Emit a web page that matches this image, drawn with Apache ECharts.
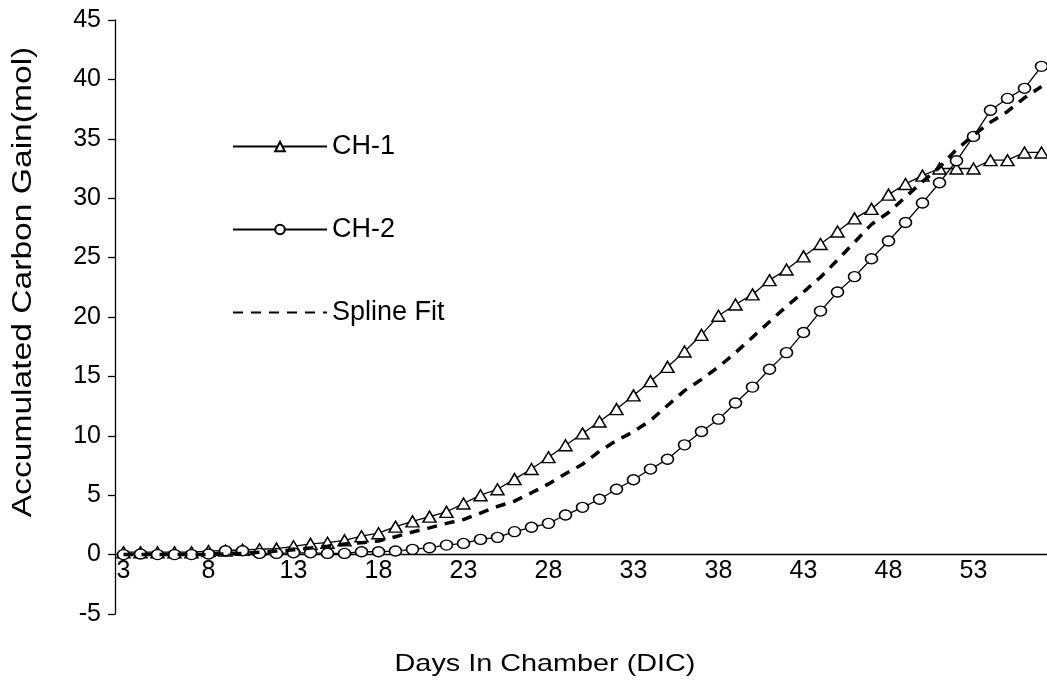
<!DOCTYPE html>
<html>
<head>
<meta charset="utf-8">
<script src="https://cdn.jsdelivr.net/npm/echarts@6/dist/echarts.min.js"></script>
<style>
  html, body { margin: 0; padding: 0; background: #fff; }
  #main { width: 1047px; height: 681px; }
</style>
</head>
<body>
<div id="main"></div>
<script>
// days in chamber (category axis)
var days = ['3','4','5','6','7','8','9','10','11','12','13','14','15','16','17','18','19','20',
    '21','22','23','24','25','26','27','28','29','30','31','32','33','34','35','36','37','38',
    '39','40','41','42','43','44','45','46','47','48','49','50','51','52','53','54','55','56','57'];

// CH-1 accumulated carbon gain (mol)
var ch1 = [0.2, 0.2, 0.2, 0.2, 0.2, 0.3, 0.35, 0.4, 0.45, 0.5, 0.7, 0.9, 1.0, 1.2, 1.55, 1.8,
    2.35, 2.8, 3.2, 3.6, 4.3, 5.0, 5.5, 6.35, 7.2, 8.2, 9.2, 10.2, 11.2, 12.25, 13.4, 14.6,
    15.8, 17.1, 18.5, 20.1, 21.05, 21.9, 23.1, 24.0, 25.1, 26.15, 27.2, 28.3, 29.1, 30.3,
    31.2, 31.9, 32.5, 32.5, 32.5, 33.2, 33.2, 33.85, 33.85];

// CH-2 accumulated carbon gain (mol)
var ch2 = [0.0, 0.05, 0.0, 0.0, 0.0, 0.05, 0.32, 0.32, 0.1, 0.1, 0.15, 0.15, 0.1, 0.1, 0.24,
    0.24, 0.3, 0.44, 0.58, 0.8, 0.94, 1.28, 1.45, 1.93, 2.3, 2.63, 3.33, 3.98, 4.66, 5.5,
    6.3, 7.2, 8.03, 9.24, 10.36, 11.4, 12.76, 14.1, 15.6, 17.0, 18.7, 20.5, 22.1, 23.4,
    24.9, 26.4, 27.95, 29.6, 31.3, 33.15, 35.2, 37.4, 38.4, 39.25, 41.1];

// spline fit
var spline = [0, 0, 0, 0, 0, 0, 0.05, 0.1, 0.2, 0.3, 0.4, 0.55, 0.7, 0.9, 1.0, 1.15, 1.5,
    1.9, 2.25, 2.63, 2.95, 3.5, 4.05, 4.5, 5.2, 5.95, 6.8, 7.6, 8.7, 9.6, 10.35, 11.3,
    12.55, 13.8, 14.75, 15.8, 17.0, 18.3, 19.6, 20.9, 22.1, 23.35, 24.8, 26.3, 27.8, 28.8,
    30.1, 31.4, 32.6, 34.1, 35.3, 36.4, 37.3, 38.45, 39.4];

var font = '"Liberation Sans", Arial, sans-serif';

var chart = echarts.init(document.getElementById('main'));

var option = {
    animation: false,
    backgroundColor: '#fff',
    grid: {
        left: 115,
        top: 20,
        width: 935,
        height: 594,
        outerBoundsMode: 'none'
    },
    legend: {
        orient: 'vertical',
        left: 232,
        top: 133,
        padding: 0,
        itemWidth: 94,
        itemHeight: 12,
        itemGap: 56,
        textStyle: { fontFamily: font, fontSize: 27, lineHeight: 27, color: '#000' },
        data: [
            'CH-1',
            'CH-2',
            { name: 'Spline Fit', itemStyle: { color: 'rgba(0,0,0,0)', borderWidth: 0 } }
        ]
    },
    xAxis: {
        type: 'category',
        data: days,
        boundaryGap: true,
        offset: -59.4,  // axis sits at y = 0
        axisLine: { onZero: false, lineStyle: { color: '#000', width: 1.3 } },
        axisTick: { interval: 4, length: 8, lineStyle: { color: '#000', width: 1.3 } },
        axisLabel: { interval: 4, margin: 4, fontFamily: font, fontSize: 25, color: '#000' },
        splitLine: { show: false }
    },
    yAxis: {
        type: 'value',
        min: -5,
        max: 45,
        interval: 5,
        axisLine: { show: true, onZero: false, lineStyle: { color: '#000', width: 1.3 } },
        axisTick: { show: true, length: 7, lineStyle: { color: '#000', width: 1.3 } },
        axisLabel: { margin: 14, fontFamily: font, fontSize: 25, color: '#000' },
        splitLine: { show: false }
    },
    graphic: [
        {
            type: 'text',
            x: 545,
            y: 664,
            scaleX: 1.2,
            style: {
                text: 'Days In Chamber (DIC)',
                font: '24px ' + font,
                fill: '#000',
                textAlign: 'center',
                textVerticalAlign: 'middle'
            }
        },
        {
            type: 'text',
            x: 23,
            y: 282,
            rotation: Math.PI / 2,
            scaleX: 1.2,
            style: {
                text: 'Accumulated Carbon Gain(mol)',
                font: '28px ' + font,
                fill: '#000',
                textAlign: 'center',
                textVerticalAlign: 'middle'
            }
        }
    ],
    series: [
        {
            name: 'CH-1',
            type: 'line',
            data: ch1,
            symbol: 'triangle',
            symbolSize: [13, 11],
            showAllSymbol: true,
            itemStyle: { color: '#fff', borderColor: '#000', borderWidth: 1.5 },
            lineStyle: { color: '#000', width: 1.3 },
            z: 2
        },
        {
            name: 'CH-2',
            type: 'line',
            data: ch2,
            symbol: 'circle',
            symbolSize: [12, 10],
            showAllSymbol: true,
            itemStyle: { color: '#fff', borderColor: '#000', borderWidth: 1.5 },
            lineStyle: { color: '#000', width: 1.3 },
            z: 3
        },
        {
            name: 'Spline Fit',
            type: 'line',
            data: spline,
            symbol: 'none',
            itemStyle: { color: '#000' },
            lineStyle: { color: '#000', width: 3.5, type: [10, 8] },
            z: 4
        }
    ]
};

chart.setOption(option);
</script>
</body>
</html>
